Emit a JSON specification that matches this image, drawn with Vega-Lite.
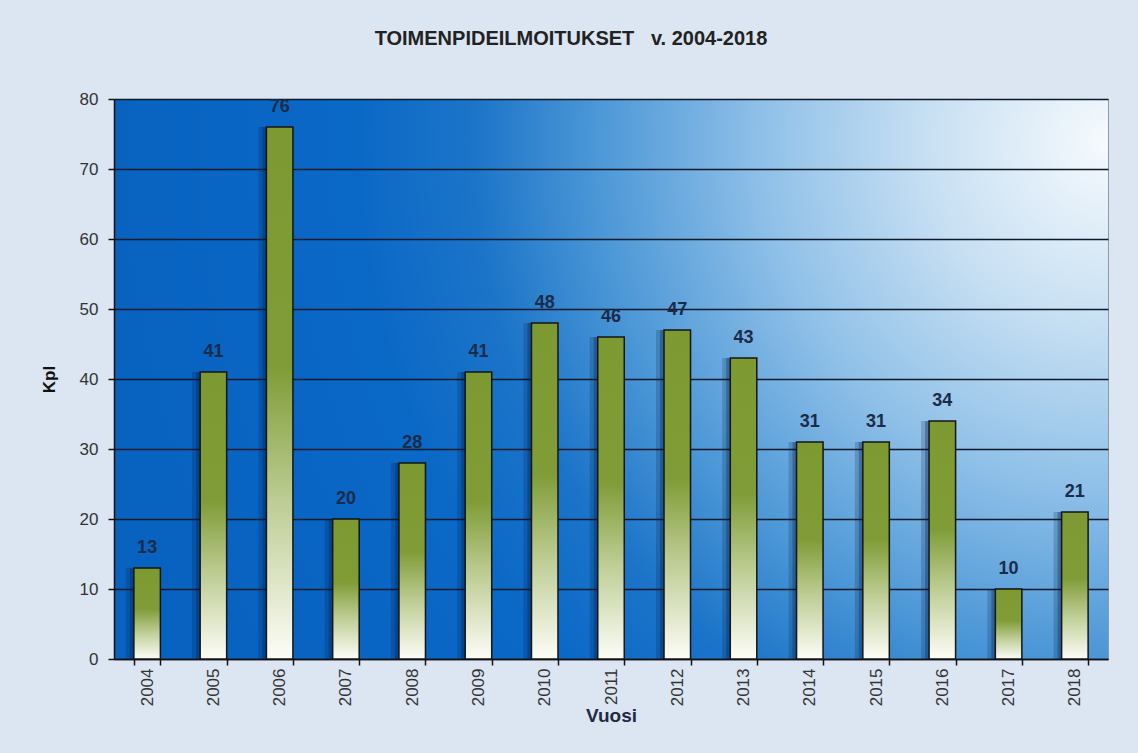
{
  "$schema": "https://vega.github.io/schema/vega-lite/v6.json",
  "autosize": {"type": "none"},
  "width": 994,
  "height": 560,
  "padding": {"left": 114, "top": 99, "right": 30, "bottom": 94},
  "background": "#dce6f2",
  "title": {
    "text": "TOIMENPIDEILMOITUKSET\u00a0\u00a0 v. 2004-2018",
    "font": "Liberation Sans",
    "fontSize": 20,
    "fontWeight": "bold",
    "color": "#222222",
    "anchor": "middle",
    "dx": -40,
    "offset": 41,
    "limit": 0
  },
  "data": {
    "values": [
      {"vuosi": "2004", "kpl": 13},
      {"vuosi": "2005", "kpl": 41},
      {"vuosi": "2006", "kpl": 76},
      {"vuosi": "2007", "kpl": 20},
      {"vuosi": "2008", "kpl": 28},
      {"vuosi": "2009", "kpl": 41},
      {"vuosi": "2010", "kpl": 48},
      {"vuosi": "2011", "kpl": 46},
      {"vuosi": "2012", "kpl": 47},
      {"vuosi": "2013", "kpl": 43},
      {"vuosi": "2014", "kpl": 31},
      {"vuosi": "2015", "kpl": 31},
      {"vuosi": "2016", "kpl": 34},
      {"vuosi": "2017", "kpl": 10},
      {"vuosi": "2018", "kpl": 21}
    ]
  },
  "encoding": {
    "x": {
      "field": "vuosi",
      "type": "nominal",
      "title": "Vuosi",
      "scale": {"paddingInner": 0.6, "paddingOuter": 0.3},
      "axis": {
        "labelAngle": -90,
        "labelFont": "Liberation Sans",
        "labelFontSize": 17,
        "labelColor": "#333333",
        "labelPadding": 3,
        "tickBand": "extent",
        "tickSize": 6,
        "tickColor": "#111111",
        "tickWidth": 1.5,
        "domainColor": "#111111",
        "domainWidth": 1.5,
        "titleFont": "Liberation Sans",
        "titleFontSize": 19,
        "titleFontWeight": "bold",
        "titleColor": "#1f2a44",
        "titlePadding": 1
      }
    },
    "y": {
      "field": "kpl",
      "type": "quantitative",
      "title": "Kpl",
      "scale": {"domain": [0, 80], "nice": false},
      "axis": {
        "values": [0, 10, 20, 30, 40, 50, 60, 70, 80],
        "labelFont": "Liberation Sans",
        "labelFontSize": 17,
        "labelColor": "#333333",
        "labelPadding": 10,
        "tickSize": 6,
        "tickColor": "#111111",
        "tickWidth": 1.5,
        "domainColor": "#111111",
        "domainWidth": 1.5,
        "grid": true,
        "gridColor": "#0d1a2a",
        "gridWidth": 1.5,
        "titleFont": "Liberation Sans",
        "titleFontSize": 17,
        "titleFontWeight": "bold",
        "titleColor": "#111111",
        "titlePadding": 21
      }
    }
  },
  "layer": [
    {
      "mark": {
        "type": "bar",
        "xOffset": -8,
        "fill": "#001a44",
        "fillOpacity": 0.2,
        "strokeWidth": 0
      }
    },
    {
      "mark": {
        "type": "bar",
        "xOffset": -4,
        "fill": "#001a44",
        "fillOpacity": 0.3,
        "strokeWidth": 0
      }
    },
    {
      "mark": {
        "type": "bar",
        "fill": {
          "gradient": "linear",
          "x1": 0, "y1": 0, "x2": 0, "y2": 1,
          "stops": [
            {"offset": 0, "color": "#7d9a32"},
            {"offset": 0.45, "color": "#7f9c36"},
            {"offset": 0.7, "color": "#bccc92"},
            {"offset": 1, "color": "#fdfdf7"}
          ]
        },
        "stroke": "#151515",
        "strokeWidth": 1.5
      }
    },
    {
      "mark": {
        "type": "text",
        "font": "Liberation Sans",
        "fontSize": 18,
        "fontWeight": "bold",
        "color": "#1c2b48",
        "baseline": "middle",
        "dy": -20
      },
      "encoding": {"text": {"field": "kpl", "type": "quantitative"}}
    }
  ],
  "config": {
    "view": {
      "stroke": "#8a9aaa",
      "strokeWidth": 1,
      "fill": {
        "gradient": "radial",
        "x1": 1, "y1": 0.26, "r1": 0,
        "x2": 1, "y2": 0.26, "r2": 1,
        "stops": [
          {"offset": 0, "color": "#f6fafd"},
          {"offset": 0.18, "color": "#c8e0f3"},
          {"offset": 0.35, "color": "#8fc0e8"},
          {"offset": 0.52, "color": "#4a96d6"},
          {"offset": 0.64, "color": "#1b74c8"},
          {"offset": 0.76, "color": "#0a68c6"},
          {"offset": 1, "color": "#0862c0"}
        ]
      }
    }
  }
}
